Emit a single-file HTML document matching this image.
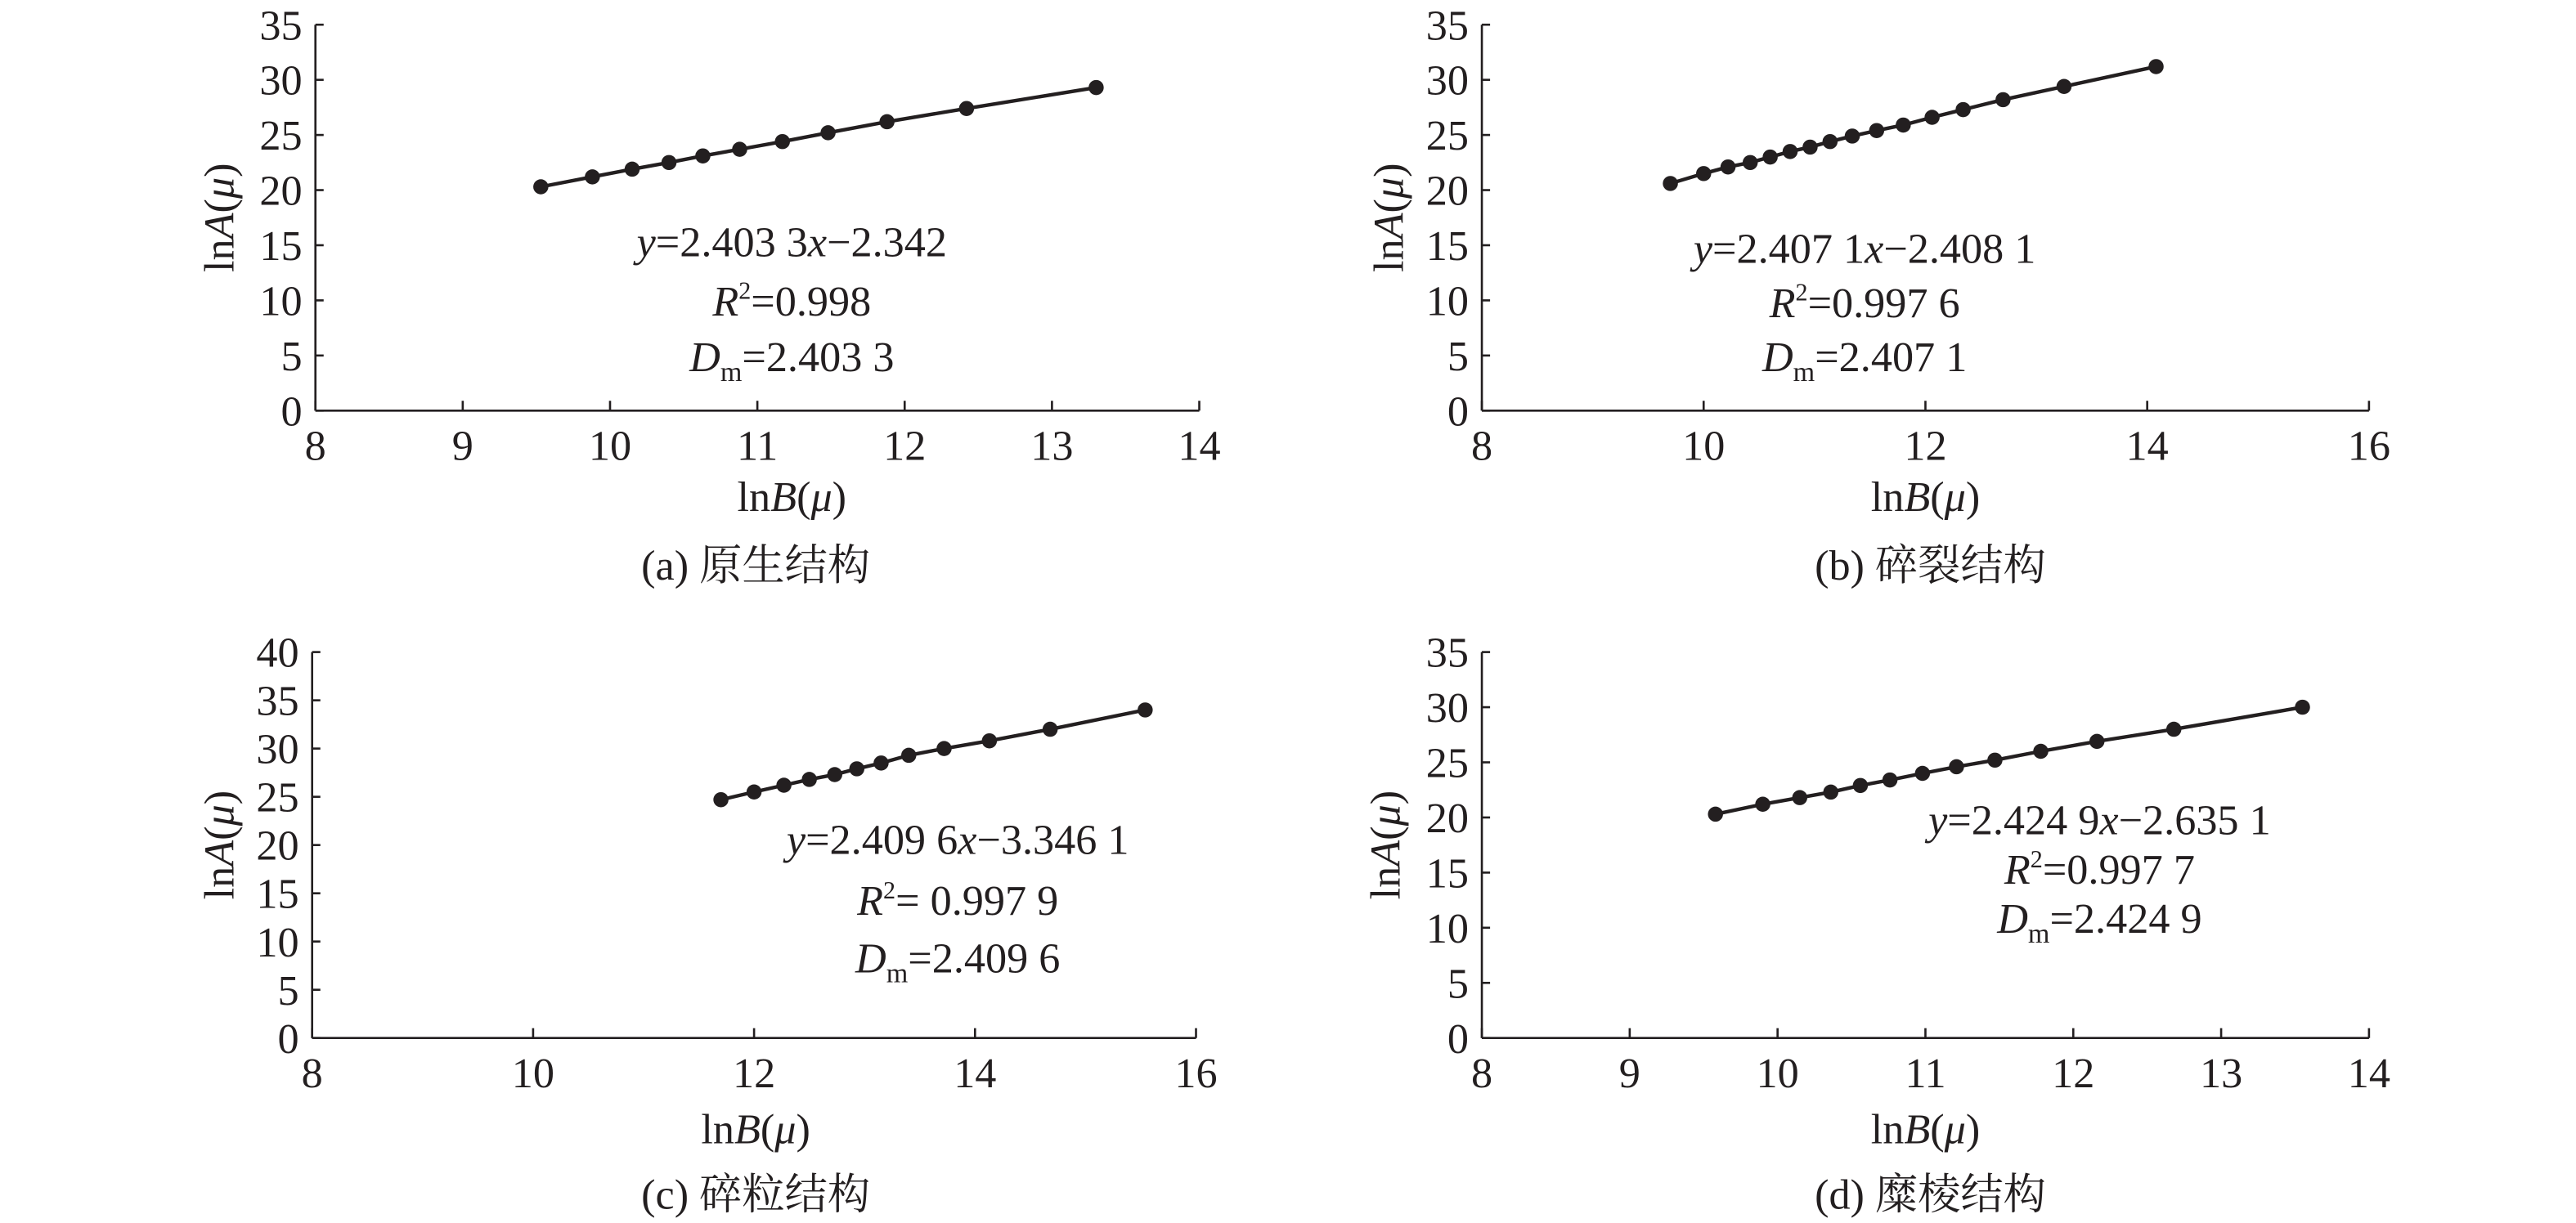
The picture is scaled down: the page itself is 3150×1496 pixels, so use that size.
<!DOCTYPE html>
<html><head><meta charset="utf-8">
<style>
html,body{margin:0;padding:0;background:#fff;}
svg{display:block;}
text{font-family:"Liberation Serif","Noto Serif CJK SC","Noto Sans CJK SC",serif;fill:#231f20;}
</style></head>
<body>
<svg id="fig" width="3150" height="1496" viewBox="0 0 1568 744.6" xmlns="http://www.w3.org/2000/svg"></svg>
<script>
// Panel (a)
const xA = [9.53,9.88,10.15,10.4,10.63,10.88,11.17,11.48,11.88,12.42,13.3];
const yA = [20.3,21.2,21.9,22.5,23.1,23.7,24.4,25.2,26.2,27.4,29.3];
// Panel (b)
const xB = [9.7,10.0,10.22,10.42,10.6,10.78,10.96,11.14,11.34,11.56,11.8,12.06,12.34,12.7,13.25,14.08];
const yB = [20.6,21.5,22.1,22.5,23.0,23.5,23.9,24.4,24.9,25.4,25.9,26.6,27.3,28.2,29.4,31.2];
// Panel (c)
const xC = [11.7,12.0,12.27,12.5,12.73,12.93,13.15,13.4,13.72,14.13,14.68,15.54];
const yC = [24.7,25.5,26.2,26.8,27.3,27.9,28.5,29.3,30.0,30.8,32.0,34.0];
// Panel (d)
const xD = [9.58,9.9,10.15,10.36,10.56,10.76,10.98,11.21,11.47,11.78,12.16,12.68,13.55];
const yD = [20.3,21.2,21.8,22.3,22.9,23.4,24.0,24.6,25.2,26.0,26.9,28.0,30.0];
// tick labels
const xTicksA = [8,9,10,11,12,13,14];
const xTicksB = [8,10,12,14,16];
const yTicks35 = [0,5,10,15,20,25,30,35];
const yTicks40 = [0,5,10,15,20,25,30,35,40];
// equations
const eqA = ["2.403 3","2.342","0.998","2.403 3"];
const eqB = ["2.407 1","2.408 1","0.997 6","2.407 1"];
const eqC = ["2.409 6","3.346 1"," 0.997 9","2.409 6"];
const eqD = ["2.424 9","2.635 1","0.997 7","2.424 9"];
const captions = ["(a) 原生结构","(b) 碎裂结构","(c) 碎粒结构","(d) 糜棱结构"];

const NS="http://www.w3.org/2000/svg";
const svg=document.getElementById('fig');
function mk(tag,attrs,parent){const e=document.createElementNS(NS,tag);for(const k in attrs)e.setAttribute(k,attrs[k]);(parent||svg).appendChild(e);return e;}

const panels=[
 {id:'a',xs:xA,ys:yA,xt:xTicksA,yt:yTicks35,L:192,R:730,B:250,T:15,xmin:8,xmax:14,ymax:35,eq:eqA,ex:482,ey:[156,192,226],yl:133,cap:captions[0],capx:460,capy:353,xlx:482,xly:311},
 {id:'b',xs:xB,ys:yB,xt:xTicksB,yt:yTicks35,L:902,R:1442,B:250,T:15,xmin:8,xmax:16,ymax:35,eq:eqB,ex:1135,ey:[160,193,226],yl:845,cap:captions[1],capx:1175,capy:353,xlx:1172,xly:311},
 {id:'c',xs:xC,ys:yC,xt:xTicksB,yt:yTicks40,L:190,R:728,B:632,T:397,xmin:8,xmax:16,ymax:40,eq:eqC,ex:583,ey:[520,557,592],yl:133,cap:captions[2],capx:460,capy:736,xlx:460,xly:696},
 {id:'d',xs:xD,ys:yD,xt:xTicksA,yt:yTicks35,L:902,R:1442,B:632,T:397,xmin:8,xmax:14,ymax:35,eq:eqD,ex:1278,ey:[508,538,568],yl:843,cap:captions[3],capx:1175,capy:736,xlx:1172,xly:696}
];

panels.forEach(p=>{
 const g=mk('g',{});
 
 
 const sx=v=>p.L+(v-p.xmin)/(p.xmax-p.xmin)*(p.R-p.L);
 const sy=v=>p.B-(v/p.ymax)*(p.B-p.T);
 const ya=mk('line',{x1:p.L,y1:p.T,x2:p.L,y2:p.B,stroke:'#231f20','stroke-width':1.3},g);
 
 
 const xa=mk('line',{x1:p.L,y1:p.B,x2:p.R,y2:p.B,stroke:'#231f20','stroke-width':1.3},g);
 
 
 p.yt.forEach(v=>{
  mk('line',{x1:p.L,y1:sy(v),x2:p.L+5,y2:sy(v),stroke:'#231f20','stroke-width':1.3},g);
  const t=mk('text',{x:p.L-8,y:sy(v)+9,'text-anchor':'end','font-size':26},g);
  t.textContent=v;
  
  
 });
 p.xt.forEach(v=>{
  mk('line',{x1:sx(v),y1:p.B,x2:sx(v),y2:p.B-6,stroke:'#231f20','stroke-width':1.3},g);
  const t=mk('text',{x:sx(v),y:p.B+30,'text-anchor':'middle','font-size':26},g);
  t.textContent=v;
  
  
 });
 const pts=p.xs.map((x,i)=>sx(x)+','+sy(p.ys[i])).join(' ');
 const pl=mk('polyline',{points:pts,fill:'none',stroke:'#231f20','stroke-width':2.2},g);
 
 
 p.xs.forEach((x,i)=>{
  const c=mk('circle',{cx:sx(x),cy:sy(p.ys[i]),r:4.6,fill:'#231f20'},g);
  
  
 });
 const e1=mk('text',{x:p.ex,y:p.ey[0],'text-anchor':'middle','font-size':26},g);
 e1.innerHTML='<tspan font-style="italic">y</tspan>='+p.eq[0]+'<tspan font-style="italic">x</tspan>−'+p.eq[1];
 
 
 const e2=mk('text',{x:p.ex,y:p.ey[1],'text-anchor':'middle','font-size':26},g);
 e2.innerHTML='<tspan font-style="italic">R</tspan><tspan font-size="15" dy="-10">2</tspan><tspan dy="10">='+p.eq[2]+'</tspan>';
 
 
 const e3=mk('text',{x:p.ex,y:p.ey[2],'text-anchor':'middle','font-size':26},g);
 e3.innerHTML='<tspan font-style="italic">D</tspan><tspan font-size="17" dy="6">m</tspan><tspan dy="-6">='+p.eq[3]+'</tspan>';
 
 
 const xl=mk('text',{x:p.xlx,y:p.xly,'text-anchor':'middle','font-size':26},g);
 xl.innerHTML='ln<tspan font-style="italic">B</tspan>(<tspan font-style="italic">μ</tspan>)';
 
 
 const cy=(p.T+p.B)/2;
 const yl=mk('text',{x:0,y:0,'text-anchor':'middle','font-size':26,transform:'translate('+(p.yl+9)+','+cy+') rotate(-90)'},g);
 yl.innerHTML='ln<tspan font-style="italic">A</tspan>(<tspan font-style="italic">μ</tspan>)';
 
 
 const cp=mk('text',{x:p.capx,y:p.capy,'text-anchor':'middle','font-size':26},g);
 cp.textContent=p.cap;
 
 
});
</script>
</body></html>
